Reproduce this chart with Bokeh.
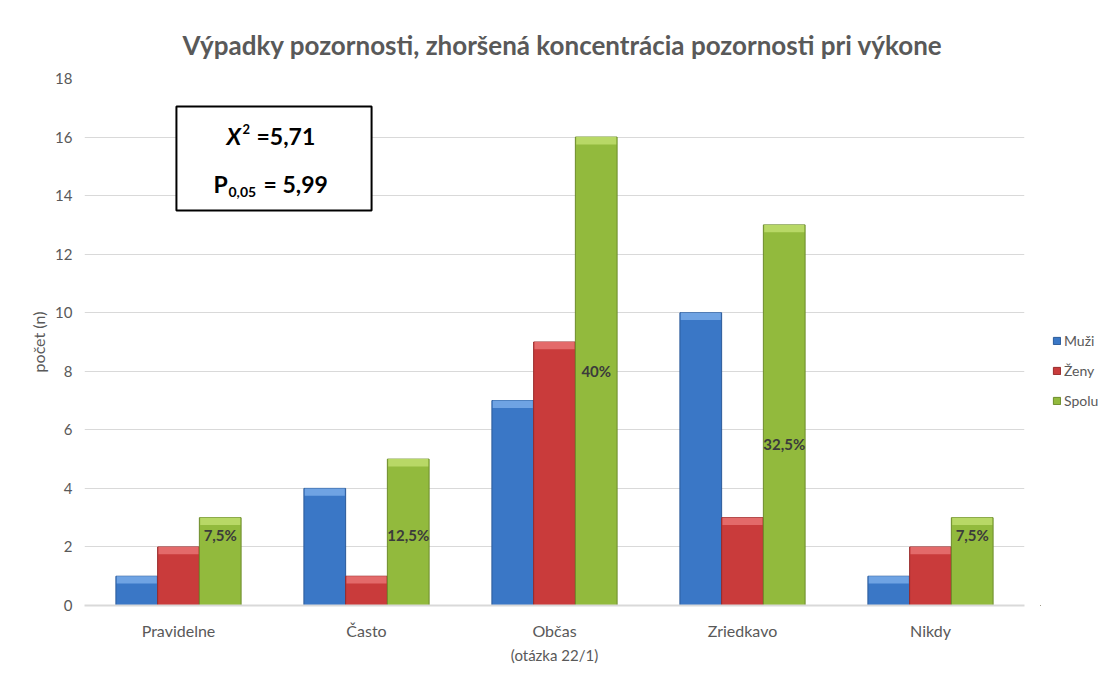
from bokeh.plotting import figure
from bokeh.layouts import row
from bokeh.models import (ColumnDataSource, FactorRange, Range1d, Legend, LegendItem,
                          SingleIntervalTicker)
from bokeh.transform import dodge
from bokeh.core.properties import value
from bokeh.embed import file_html
from bokeh.resources import INLINE

# ---- data ----
categories = ["Pravidelne", "Často", "Občas", "Zriedkavo", "Nikdy"]
muzi = [1, 4, 7, 10, 1]
zeny = [2, 1, 9, 3, 2]
spolu = [3, 5, 16, 13, 3]
label_y = [2.4, 2.4, 8.0, 5.5, 2.4]
series_names = ["Muži", "Ženy", "Spolu"]
title_text = "Výpadky pozornosti, zhoršená koncentrácia pozornosti pri výkone"

total = sum(spolu)
pct = [("%g" % (v / total * 100)).replace(".", ",") + "%" for v in spolu]

FONT = "Lato"
GRAY = "#595959"

main_cols = ["#3a77c6", "#c93b3b", "#92ba3d"]
cap_cols = ["#6fa3e3", "#e36a6a", "#b8d866"]
edge_cols = ["#2b5a99", "#982a2a", "#6c8c2a"]

src = ColumnDataSource(dict(x=categories, m=muzi, z=zeny, s=spolu,
                            mc=[v - 0.25 for v in muzi],
                            zc=[v - 0.25 for v in zeny],
                            sc=[v - 0.25 for v in spolu],
                            pct=pct, ly=label_y))

H = 667
p = figure(width=1040, height=H, x_range=FactorRange(*categories, range_padding=0),
           y_range=Range1d(0, 18), output_backend="svg", toolbar_location=None,
           min_border_left=84, min_border_right=16, min_border_top=78, min_border_bottom=62)
p.x_range.range_padding = 0
p.outline_line_color = None
p.background_fill_color = "white"
p.border_fill_color = "white"

p.title.text = title_text
p.title.align = "left"
p.title.text_font = FONT
p.title.text_font_size = "26px"
p.title.text_font_style = "bold"
p.title.text_color = GRAY
p.title.offset = 98
p.title.standoff = 35

w = 0.222
offs = [-w, 0, w]
tops = ["m", "z", "s"]
caps = ["mc", "zc", "sc"]
for i in range(3):
    p.vbar(x=dodge("x", offs[i], range=p.x_range), top=tops[i], bottom=0, width=w,
           source=src, fill_color=main_cols[i], line_color=edge_cols[i], line_width=1)
    p.vbar(x=dodge("x", offs[i], range=p.x_range), top=tops[i], bottom=caps[i], width=w * 0.96,
           source=src, fill_color=cap_cols[i], line_color=None)

p.text(x=dodge("x", w, range=p.x_range), y="ly", text="pct", source=src,
       text_align="center", text_baseline="middle", text_font=value(FONT),
       text_font_size="15px", text_font_style="bold", text_color="#3b3b3b")

# chi-square box
p.quad(left=[0.489], right=[1.527], bottom=[13.49], top=[17.04],
       fill_color="white", line_color="black", line_width=2)
p.text(x=[(227 - 85) / 188], y=[16.02], text=["X"], text_font=value(FONT), text_font_size="23px",
       text_font_style="bold italic", text_color="black", text_baseline="middle")
p.text(x=[(243 - 85) / 188], y=[16.27], text=["2"], text_font=value(FONT), text_font_size="13px",
       text_font_style="bold", text_color="black", text_baseline="middle")
p.text(x=[(257 - 85) / 188], y=[16.02], text=["=5,71"], text_font=value(FONT), text_font_size="23px",
       text_font_style="bold", text_color="black", text_baseline="middle")
p.text(x=[(214 - 85) / 188], y=[14.38], text=["P"], text_font=value(FONT), text_font_size="23px",
       text_font_style="bold", text_color="black", text_baseline="middle")
p.text(x=[(229 - 85) / 188], y=[14.13], text=["0,05"], text_font=value(FONT), text_font_size="14px",
       text_font_style="bold", text_color="black", text_baseline="middle")
p.text(x=[(264 - 85) / 188], y=[14.38], text=["= 5,99"], text_font=value(FONT), text_font_size="23px",
       text_font_style="bold", text_color="black", text_baseline="middle")

# axes
p.yaxis.ticker = SingleIntervalTicker(interval=2)
p.yaxis.axis_line_color = None
p.yaxis.major_tick_line_color = None
p.yaxis.minor_tick_line_color = None
p.yaxis.major_label_text_font = FONT
p.yaxis.major_label_text_font_size = "15px"
p.yaxis.major_label_text_color = GRAY
p.yaxis.major_label_standoff = 6
p.yaxis.axis_label = "počet (n)"
p.yaxis.axis_label_text_font = FONT
p.yaxis.axis_label_text_font_size = "16px"
p.yaxis.axis_label_text_font_style = "normal"
p.yaxis.axis_label_text_color = GRAY
p.yaxis.axis_label_standoff = 4

p.xaxis.axis_line_color = "#d9d9d9"
p.xaxis.axis_line_width = 2
p.xaxis.major_tick_line_color = None
p.xaxis.minor_tick_line_color = None
p.xaxis.major_label_text_font = FONT
p.xaxis.major_label_text_font_size = "16px"
p.xaxis.major_label_text_color = GRAY
p.xaxis.major_label_standoff = 9
p.xaxis.axis_label = "(otázka 22/1)"
p.xaxis.axis_label_text_font = FONT
p.xaxis.axis_label_text_font_size = "15px"
p.xaxis.axis_label_text_font_style = "normal"
p.xaxis.axis_label_text_color = GRAY
p.xaxis.axis_label_standoff = 3

p.xgrid.grid_line_color = None
p.ygrid.grid_line_color = "#d9d9d9"
p.ygrid.grid_line_width = 1

# legend panel (separate narrow figure to the right)
q = figure(width=58, height=H, x_range=Range1d(0, 1), y_range=Range1d(0, 1),
           output_backend="svg", toolbar_location=None,
           min_border_left=0, min_border_right=0, min_border_top=0, min_border_bottom=0)
q.axis.visible = False
q.grid.visible = False
q.outline_line_color = None
q.background_fill_color = "white"
q.border_fill_color = "white"
dummies = [q.vbar(x=[-10], top=[-10], bottom=[-11], width=1,
                  fill_color=main_cols[i], line_color=edge_cols[i])
           for i in range(3)]
legend = Legend(items=[LegendItem(label=series_names[i], renderers=[dummies[i]]) for i in range(3)],
                location=(12, 195), orientation="vertical")
legend.glyph_width = 9
legend.glyph_height = 9
legend.label_height = 20
legend.spacing = 10
legend.padding = 0
legend.margin = 0
legend.label_standoff = 3
legend.label_text_font = FONT
legend.label_text_font_size = "14px"
legend.label_text_color = GRAY
legend.border_line_color = None
legend.background_fill_alpha = 0
q.add_layout(legend, "center")

layout = row(p, q, spacing=0)
open("out.html", "w").write(file_html(layout, INLINE))
